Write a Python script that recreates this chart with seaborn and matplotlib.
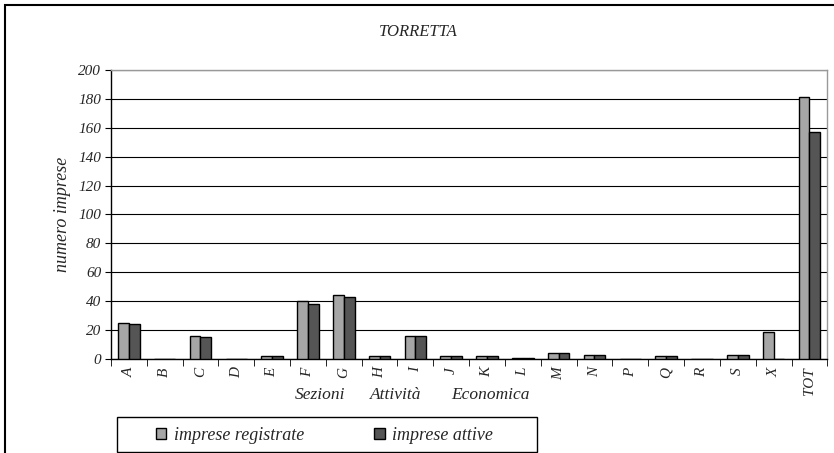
import numpy as np
import pandas as pd
import matplotlib.pyplot as plt
import seaborn as sns

sns.set_style("white")
plt.rcParams['font.family'] = ['Liberation Serif', 'DejaVu Serif']
plt.rcParams['font.style'] = 'italic'

# data
sezioni = ["A", "B", "C", "D", "E", "F", "G", "H", "I", "J",
           "K", "L", "M", "N", "P", "Q", "R", "S", "X", "TOT"]
registrate = [25, 0, 16, 0, 2, 40, 44, 2, 16, 2, 2, 1, 4, 3, 0, 2, 0, 3, 19, 181]
attive = [24, 0, 15, 0, 2, 38, 43, 2, 16, 2, 2, 1, 4, 3, 0, 2, 0, 3, 0, 157]
serie = ["imprese registrate", "imprese attive"]
colori = ["#a6a6a6", "#555555"]
titolo_x = ["Sezioni", "Attività", "Economica"]

df = pd.DataFrame({"sezione": sezioni * 2,
                   "valore": registrate + attive,
                   "serie": [serie[0]] * len(sezioni) + [serie[1]] * len(sezioni)})

fig = plt.figure(figsize=(8.34, 4.53), dpi=100)
ax = fig.add_axes([0.133, 0.2075, 0.859, 0.638])

sns.barplot(data=df, x="sezione", y="valore", hue="serie", order=sezioni,
            palette=colori, width=0.6, edgecolor="black",
            linewidth=1.0, ax=ax, legend=False, zorder=3)

ax.set_ylim(0, 200)
ax.set_xlim(-0.5, len(sezioni) - 0.5)
ax.set_yticks(range(0, 201, 20))
ax.yaxis.grid(True, color="black", linewidth=0.8, zorder=0)
ax.set_axisbelow(True)
ax.set_xlabel("")
ax.set_ylabel("numero imprese", fontsize=13, labelpad=5)
ax.tick_params(axis="y", labelsize=11, length=4, direction="out", left=True, color="black", pad=3)
ax.tick_params(axis="x", which="major", length=0, labelsize=11, rotation=90, pad=6)
ax.set_xticks(np.arange(-0.5, len(sezioni)), minor=True)
ax.tick_params(axis="x", which="minor", length=5, direction="out", bottom=True, color="black")

for s in ["left", "bottom"]:
    ax.spines[s].set_color("black")
    ax.spines[s].set_linewidth(1.0)
for s in ["top", "right"]:
    ax.spines[s].set_color("#999999")
    ax.spines[s].set_linewidth(1.0)

fig.text(0.501, 0.93, "TORRETTA", ha="center", va="center", fontsize=12)
for parola, xc in zip(titolo_x, [320, 396, 490]):
    fig.text(xc / 834, 0.128, parola, ha="center", va="center", fontsize=12.5)

handles = [plt.Rectangle((0, 0), 1, 1, facecolor=c, edgecolor="black") for c in colori]
leg = fig.legend(handles, serie, loc="center", bbox_to_anchor=(0.389, 0.039),
                 ncol=2, frameon=False, fontsize=13, handlelength=0.6, handleheight=0.6,
                 handletextpad=0.4, columnspacing=3.9, borderaxespad=0)

# legend box
fig.patches.append(plt.Rectangle((117 / 834, 1 - 452 / 453), 420 / 834, 35 / 453,
                                 transform=fig.transFigure, fill=False,
                                 edgecolor="black", linewidth=1.0))
# outer border
fig.patches.append(plt.Rectangle((0.006, -0.01), 1.0, 1.0, transform=fig.transFigure,
                                 fill=False, edgecolor="black", linewidth=1.5))

fig.savefig("out.png", dpi=100)
